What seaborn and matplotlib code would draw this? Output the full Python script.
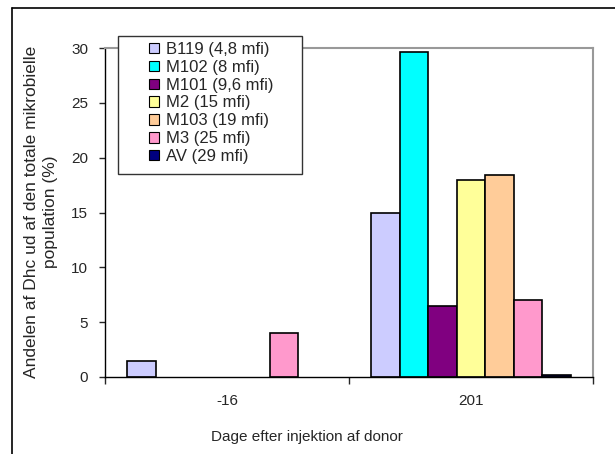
import matplotlib
matplotlib.use("Agg")
import matplotlib.pyplot as plt
import seaborn as sns
import pandas as pd
import numpy as np
from matplotlib.patches import Rectangle

sns.set_style("white")
plt.rcParams['font.family'] = ['Liberation Sans', 'DejaVu Sans']

days = ["-16", "201"]
series = ["B119 (4,8 mfi)", "M102 (8 mfi)", "M101 (9,6 mfi)", "M2 (15 mfi)",
          "M103 (19 mfi)", "M3 (25 mfi)", "AV (29 mfi)"]
vals_m16 = [1.5, np.nan, np.nan, np.nan, np.nan, 4.0, np.nan]
vals_201 = [15.0, 29.6, 6.5, 18.0, 18.4, 7.0, 0.15]
colors = ["#CCCCFF", "#00FFFF", "#800080", "#FFFF99", "#FFCC99", "#FF99CC", "#000080"]

rows = []
for s, a, b in zip(series, vals_m16, vals_201):
    rows.append({"day": days[0], "series": s, "value": a})
    rows.append({"day": days[1], "series": s, "value": b})
df = pd.DataFrame(rows)

W, H = 615, 454
fig = plt.figure(figsize=(W/100, H/100), dpi=100)
ax = fig.add_axes([105/W, 1-377/H, (593-105)/W, (377-48)/H])

sns.barplot(data=df, x="day", y="value", hue="series", order=days, hue_order=series,
            palette=colors, width=0.82, gap=0, edgecolor="black", linewidth=1.2,
            errorbar=None, ax=ax, saturation=1)

ax.set_ylim(0, 30)
ax.set_xlim(-0.5, 1.5)
ax.set_yticks([0, 5, 10, 15, 20, 25, 30])
ax.tick_params(axis="y", direction="out", length=4, width=1, left=True, labelsize=11, pad=8)
ax.set_xticks([0, 1])
ax.set_xticklabels(days, fontsize=11)
ax.tick_params(axis="x", length=0, pad=12)
ax.set_xticks([-0.5, 0.5, 1.5], minor=True)
ax.tick_params(axis="x", which="minor", direction="out", length=5, width=1, bottom=True)

for side in ["left", "bottom"]:
    ax.spines[side].set_color("black")
    ax.spines[side].set_linewidth(1)
for side in ["top", "right"]:
    ax.spines[side].set_visible(True)
    ax.spines[side].set_color("#999999")
    ax.spines[side].set_linewidth(1.5)

ax.set_xlabel("")
ax.set_ylabel("")
fig.text(307/W, 1-437/H, "Dage efter injektion af donor", fontsize=11, ha="center", va="center")
fig.text(41/W, 1-212/H, "Andelen af Dhc ud af den totale mikrobielle\npopulation (%)",
         fontsize=12.5, ha="center", va="center", rotation=90, multialignment="center",
         linespacing=1.4)

# legend box
fig.add_artist(Rectangle((118/W, 1-174/H), (302-118)/W, (174-36)/H, transform=fig.transFigure,
                         facecolor="white", edgecolor="#333333", linewidth=1, zorder=5))
leg = ax.legend(loc="upper left", bbox_to_anchor=(149/W, 1-42/H), bbox_transform=fig.transFigure,
                fontsize=12, frameon=False, handlelength=0.6,
                handleheight=0.6, handletextpad=0.4, labelspacing=0.17,
                borderpad=0, borderaxespad=0)
for h in leg.legend_handles:
    h.set_edgecolor("black")
    h.set_linewidth(0.8)
leg.remove()
fig.add_artist(leg)
leg.set_zorder(6)

# outer chart border (top and left visible)
fig.add_artist(plt.Line2D([12/W, 1.0], [1-8/H, 1-8/H], color="black", lw=1.2, transform=fig.transFigure))
fig.add_artist(plt.Line2D([12/W, 12/W], [0, 1-8/H], color="black", lw=1.2, transform=fig.transFigure))

fig.savefig("out.png", dpi=100)
